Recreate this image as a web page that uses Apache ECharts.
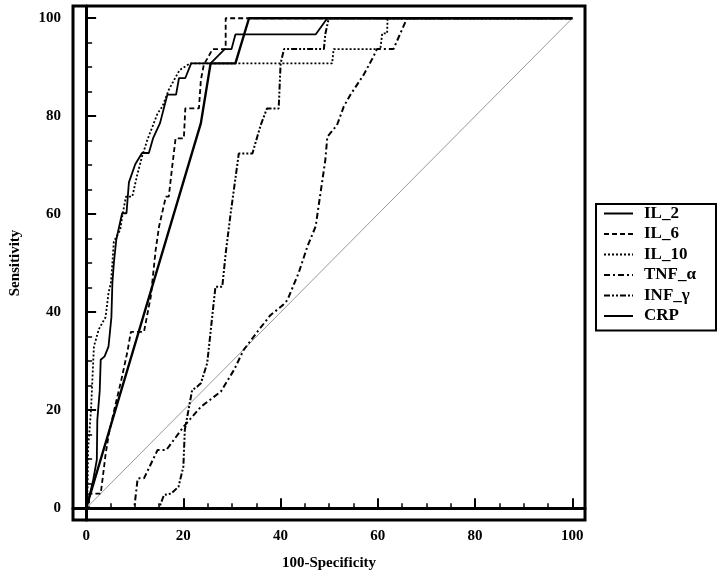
<!DOCTYPE html>
<html>
<head>
<meta charset="utf-8">
<script src="https://cdn.jsdelivr.net/npm/echarts@6/dist/echarts.min.js"></script>
<style>html,body{margin:0;padding:0;background:#fff}#c{width:721px;height:578px}</style>
</head>
<body>
<div id="c"></div>
<script>
const seriesNames = ['IL_2', 'IL_6', 'IL_10', 'TNF_α', 'INF_γ', 'CRP'];
const majorTicks = [0, 20, 40, 60, 80, 100];
const minorTicks = [5, 10, 15, 25, 30, 35, 45, 50, 55, 65, 70, 75, 85, 90, 95];

const il2 = [[0,0],[0.4,0],[0.8,3],[1.4,5.5],[2.2,9.9],[2.3,18],[2.8,24],[3,30.3],[3.8,31],[4.6,33],[5.2,39],[5.4,46],[5.7,50],[6.2,54.8],[6.8,57.5],[7.4,60.2],[8.3,60.2],[8.8,66.5],[10.1,70.2],[11.5,72.5],[12.9,72.5],[13.8,75.6],[15.2,78.6],[16.7,84.4],[18.5,84.4],[19.1,87.8],[20.4,87.8],[21.6,90.8],[25.6,90.8],[28.5,93.7],[29.9,93.7],[30.7,96.7],[47.2,96.7],[49.6,100],[100,100]];
const il6 = [[0,0],[0.6,0],[0.6,3],[3,3],[3.4,6.1],[4,11],[4.7,15.3],[6,21],[7.2,26],[8.5,32],[9.2,36],[11.9,36],[13.3,43.2],[14.3,52.7],[15,57.5],[16.4,63.6],[17,63.6],[17.7,69.7],[18.4,75.5],[20.1,75.5],[20.4,81.6],[23.2,81.6],[23.6,87.4],[24.2,90.5],[26,93.7],[28.7,93.7],[28.7,100],[100,100]];
const il10 = [[0,0],[0.3,4],[0.4,12],[1,20],[1.6,33],[2.6,36.5],[4,39],[4.6,43.9],[5.1,46],[5.4,50],[5.7,54.4],[7,56.8],[7.5,60],[8.2,63.6],[9.5,63.6],[10.5,68],[11.5,71.8],[12.6,75.2],[14.7,80.6],[15.7,82],[17,85.4],[19.2,89.4],[21.4,90.8],[50.6,90.8],[50.9,93.7],[60.5,93.7],[60.9,96.9],[61.9,96.9],[62,100],[100,100]];
const tnfA = [[0,0],[9.9,0],[10.6,6.1],[11.9,6.1],[14.7,11.9],[16.5,11.9],[20.1,16.7],[23.6,20.7],[27.7,23.8],[30.4,28.2],[32.4,32.3],[35.2,36],[37.9,39.4],[40.5,41.5],[41.4,42.5],[43.7,48],[45.5,53.4],[47.2,57.5],[48.2,64.3],[49.2,71.1],[49.6,75.8],[51.6,78.2],[53,82],[54.3,84.3],[57.1,88.5],[59.1,92.2],[59.8,93.7],[63.2,93.7],[66,100],[100,100]];
const infG = [[0,0],[15,0],[16,2.7],[17.5,3],[19,4.4],[20,8.5],[20.3,16],[21.8,24.1],[22.8,24.8],[23.6,25.5],[24.9,29.6],[26.3,42.5],[26.6,45.2],[28,45.2],[28.7,52],[29.7,60],[31.4,72.4],[34.2,72.4],[35.9,78.2],[37.2,81.6],[39.6,81.6],[40,90.8],[40.7,93.7],[48.9,93.7],[49.2,96.8],[49.9,100],[100,100]];
const crp = [[0,0],[23.6,78.6],[25.6,90.8],[30.7,90.8],[33.5,100],[100,100]];
const diag = [[0,0],[100,100]];

const font = 'Liberation Serif';
const txt = {fontFamily: font, fontWeight: 'bold', fontSize: 15, color: '#000'};

function line(name, data, type, width) {
  return {
    name: name, type: 'line', data: data, symbol: 'none', showSymbol: false,
    lineStyle: {color: '#000', width: width, type: type}, itemStyle: {color: '#000'},
    animation: false, z: 3
  };
}

const chart = echarts.init(document.getElementById('c'), null, {renderer: 'canvas'});
chart.setOption({
  backgroundColor: '#fff',
  animation: false,
  grid: {left: 72, right: 136, top: 6, bottom: 58, show: true, borderColor: '#000', borderWidth: 3, containLabel: false},
  legend: {
    orient: 'vertical', left: 596, top: 204,
    itemWidth: 29, itemHeight: 12, itemGap: 3.5,
    padding: [1, 20, 6, 7],
    borderColor: '#000', borderWidth: 2,
    itemStyle: {color: 'rgba(0,0,0,0)', borderWidth: 0, opacity: 0},
    textStyle: Object.assign({}, txt, {fontSize: 17, padding: [0, 0, 0, 6]}),
    data: seriesNames
  },
  xAxis: [{
    type: 'value', min: -2.7, max: 102.6, position: 'bottom',
    name: '100-Specificity', nameLocation: 'middle', nameGap: 36, nameTextStyle: txt,
    axisLine: {show: true, lineStyle: {color: '#000', width: 3}},
    axisTick: {show: true, inside: true, length: 10, lineStyle: {color: '#000', width: 2}, customValues: majorTicks},
    axisLabel: Object.assign({margin: 9, customValues: majorTicks}, txt),
    splitLine: {show: false}
  }, {
    type: 'value', min: -2.7, max: 102.6, position: 'bottom',
    axisLine: {show: false},
    axisTick: {show: true, inside: true, length: 5, lineStyle: {color: '#000', width: 1.5}, customValues: minorTicks},
    axisLabel: {show: false},
    splitLine: {show: false}
  }],
  yAxis: [{
    type: 'value', min: -2.4, max: 102.5, position: 'left',
    name: 'Sensitivity', nameLocation: 'middle', nameGap: 50, nameTextStyle: txt,
    axisLine: {show: true, lineStyle: {color: '#000', width: 3}},
    axisTick: {show: true, inside: true, length: 10, lineStyle: {color: '#000', width: 2}, customValues: majorTicks},
    axisLabel: Object.assign({margin: 12, customValues: majorTicks}, txt),
    splitLine: {show: false}
  }, {
    type: 'value', min: -2.4, max: 102.5, position: 'left',
    axisLine: {show: false},
    axisTick: {show: true, inside: true, length: 6, lineStyle: {color: '#000', width: 1.5}, customValues: minorTicks},
    axisLabel: {show: false},
    splitLine: {show: false}
  }],
  series: [
    {name: 'ref', type: 'line', data: diag, symbol: 'none', silent: true, lineStyle: {color: '#999', width: 1}, z: 2},
    line('IL_2', il2, 'solid', 1.8),
    line('IL_6', il6, [5, 3], 1.8),
    line('IL_10', il10, [2, 2], 1.8),
    line('TNF_α', tnfA, [6, 3, 2, 3], 2),
    line('INF_γ', infG, [6, 2, 2, 2, 2, 2], 2),
    line('CRP', crp, 'solid', 2.4)
  ]
});
</script>
</body>
</html>
